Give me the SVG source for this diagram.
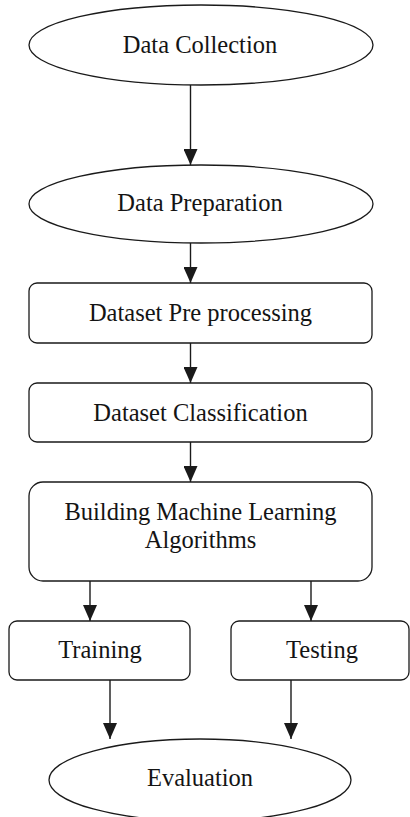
<svg xmlns="http://www.w3.org/2000/svg" width="410" height="817" viewBox="0 0 410 817">
  <style>
    .shape { fill: #ffffff; stroke: #1a1a1a; stroke-width: 1.3; }
    .label { font-family: "Liberation Serif", "Times New Roman", serif; font-size: 24.5px; fill: #141414; text-anchor: middle; }
    .edge { stroke: #1a1a1a; stroke-width: 1.4; fill: none; marker-end: url(#head); }
  </style>
  <defs>
    <marker id="head" markerUnits="userSpaceOnUse" markerWidth="16" markerHeight="14" refX="16" refY="7" orient="auto" viewBox="0 0 16 14">
      <path d="M0,0 L16,7 L0,14 Z" fill="#1a1a1a"/>
    </marker>
  </defs>
  <rect width="410" height="817" fill="#ffffff"/>

  <!-- nodes -->
  <g id="data-collection">
    <ellipse class="shape" cx="201" cy="45" rx="172" ry="40"/>
    <text class="label" x="200" y="53">Data Collection</text>
  </g>
  <g id="data-preparation">
    <ellipse class="shape" cx="201" cy="204" rx="172" ry="39"/>
    <text class="label" x="200" y="211">Data Preparation</text>
  </g>
  <g id="dataset-preprocessing">
    <rect class="shape" x="29" y="283" width="343" height="60" rx="8"/>
    <text class="label" x="200.5" y="321">Dataset Pre processing</text>
  </g>
  <g id="dataset-classification">
    <rect class="shape" x="29" y="383" width="343" height="59" rx="8"/>
    <text class="label" x="200.5" y="421">Dataset Classification</text>
  </g>
  <g id="building-ml">
    <rect class="shape" x="29" y="482" width="343" height="99" rx="14"/>
    <text class="label" x="200.5" y="520">Building Machine Learning</text>
    <text class="label" x="200.5" y="548">Algorithms</text>
  </g>
  <g id="training">
    <rect class="shape" x="9" y="621" width="181" height="59" rx="8"/>
    <text class="label" x="100" y="658">Training</text>
  </g>
  <g id="testing">
    <rect class="shape" x="231" y="621" width="178" height="59" rx="8"/>
    <text class="label" x="322" y="658">Testing</text>
  </g>
  <g id="evaluation">
    <ellipse class="shape" cx="200" cy="780" rx="151" ry="41"/>
    <text class="label" x="200" y="786">Evaluation</text>
  </g>

  <!-- connectors -->
  <g id="connectors">
    <line class="edge" x1="190.5" y1="85" x2="190.5" y2="165"/>
    <line class="edge" x1="190.5" y1="243" x2="190.5" y2="283"/>
    <line class="edge" x1="190.5" y1="343" x2="190.5" y2="383"/>
    <line class="edge" x1="190.5" y1="442" x2="190.5" y2="482"/>
    <line class="edge" x1="90" y1="581" x2="90" y2="621"/>
    <line class="edge" x1="311" y1="581" x2="311" y2="621"/>
    <line class="edge" x1="110" y1="680" x2="110" y2="739"/>
    <line class="edge" x1="291" y1="680" x2="291" y2="739"/>
  </g>
</svg>
